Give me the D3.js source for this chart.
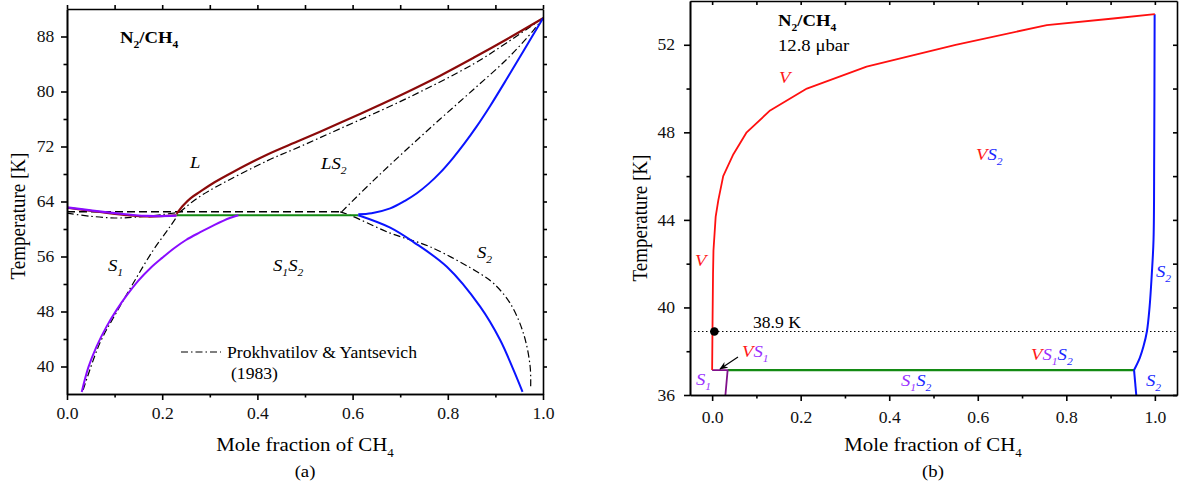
<!DOCTYPE html>
<html lang="en">
<head>
<meta charset="utf-8">
<title>N2/CH4 phase diagram</title>
<script src="https://d3js.org/d3.v7.min.js"></script>
<style>
  body { margin: 0; background: #fff; }
  svg { display: block; font-family: "Liberation Serif", "Times New Roman", serif; }
  .axis path, .axis line { stroke: #000; stroke-width: 1.6; }
  .axis text { font-family: "Liberation Serif", serif; fill: #111; }
</style>
</head>
<body>
<svg width="1179" height="489"></svg>
<script>
// ---- panel (a) data: [mole fraction CH4, T in K]
var liquidusLeft  = [[0,63.1],[0.06,62.55],[0.12,62.05],[0.17,61.8],[0.23,62.0]];
var liquidus      = [[0.23,62.2],[0.245,63.5],[0.26,64.5],[0.279,65.4],[0.31,66.8],[0.349,68.3],[0.42,70.8],[0.49,72.9],[0.574,75.45],[0.643,77.6],[0.714,79.9],[0.784,82.3],[0.854,84.9],[0.924,87.6],[1.0,90.65]];
var solidusN2     = [[0,63.15],[0.05,62.7],[0.1,62.3],[0.167,61.9],[0.23,61.95]];
var solvusN2      = [[0.031,36.3],[0.045,39.9],[0.062,42.9],[0.083,45.8],[0.104,48.2],[0.125,50.3],[0.15,52.5],[0.175,54.3],[0.2,55.8],[0.225,57.2],[0.25,58.4],[0.279,59.5],[0.31,60.6],[0.342,61.6],[0.36,62.0]];
var eutecticA     = [[0.23,62.0],[0.612,62.0]];
var solidusCH4    = [[0.612,62.15],[0.64,62.3],[0.679,63.0],[0.71,64.1],[0.735,65.2],[0.76,66.6],[0.784,68.2],[0.81,70.25],[0.835,72.45],[0.86,74.85],[0.889,77.9],[0.924,81.85],[0.959,85.9],[1.0,90.65]];
var solvusCH4     = [[0.612,62.0],[0.679,60.2],[0.728,58.1],[0.798,54.5],[0.868,48.7],[0.91,43.85],[0.938,39.5],[0.957,36.3]];
// Prokhvatilov & Yantsevich (1983)
var pyDashed      = [[0,62.5],[0.574,62.5]];
var pyLeft        = [[0,62.3],[0.05,61.85],[0.1,61.6],[0.14,61.7],[0.2,62.1],[0.237,62.45]];
var pyLiquidus    = [[0.237,62.45],[0.27,64.3],[0.31,66.0],[0.42,69.9],[0.49,72.0],[0.574,74.6],[0.714,79.0],[0.854,84.0],[0.924,87.1],[1.0,90.7]];
var pySolvusN2    = [[0.034,36.6],[0.069,43.4],[0.105,48.0],[0.139,52.1],[0.181,56.9],[0.216,60.3],[0.237,62.45]];
var pySolidusCH4  = [[0.577,62.5],[0.643,67.0],[0.714,71.6],[0.784,76.0],[0.854,80.3],[0.924,84.7],[0.98,88.9],[1.0,90.7]];
var pySolvusCH4   = [[0.574,62.5],[0.595,62.0],[0.679,59.4],[0.763,57.4],[0.868,53.5],[0.896,52.1],[0.931,49.2],[0.959,44.8],[0.973,40.0],[0.974,36.8]];

// ---- panel (b) data, 12.8 ubar
var vapour        = [[0.0,37.14],[0.001,39.5],[0.002,41.5],[0.003,42.6],[0.008,44.15],[0.014,44.9],[0.025,46.0],[0.048,47.0],[0.078,48.0],[0.131,49.0],[0.214,50.0],[0.349,51.0],[0.55,52.0],[0.756,52.9],[0.906,53.2],[1.0,53.4]];
var s2Upper       = [[0.953,37.14],[0.966,37.7],[0.974,38.2],[0.982,38.9],[0.988,40.0],[0.993,41.5],[0.997,43.1],[0.9985,47],[0.9995,53.4]];
var s2Lower       = [[0.953,37.14],[0.958,36]];
var s1Edge        = [[0,37.14],[0.035,37.14],[0.030,36]];
var eutecticB     = [[0.035,37.14],[0.953,37.14]];
var dotLine       = [[-0.05,38.9],[1.05,38.9]];
var marker        = [0.005,38.9];

var xTicks = [0,0.2,0.4,0.6,0.8,1.0], xMinor = [0.1,0.3,0.5,0.7,0.9];
var yTicksA = [40,48,56,64,72,80,88], yMinorA = [44,52,60,68,76,84];
var yTicksB = [36,40,44,48,52], yMinorB = [38,42,46,50];

var SX = 1.1; // the figure text is slightly wide
var svg = d3.select("svg");

var xa = d3.scaleLinear().domain([0,1]).range([67,543]),
    ya = d3.scaleLinear().domain([36,92]).range([394,9]),
    xb = d3.scaleLinear().domain([-0.05,1.05]).range([690,1177]),
    yb = d3.scaleLinear().domain([36,54]).range([395,1]);

function txt(x, y, parts, size, extra) {
  var t = svg.append("text")
      .attr("transform", "translate(" + x + "," + y + ") scale(" + SX + ",1)" + (extra || ""))
      .attr("font-size", size);
  parts.forEach(function(p) {
    var s = t.append("tspan").text(p.t);
    if (p.fill) s.attr("fill", p.fill);
    if (p.italic) s.attr("font-style", "italic");
    if (p.bold) s.attr("font-weight", "bold");
    if (p.sub) s.attr("font-size", size * 0.62).attr("dy", size * 0.3);
    if (p.back) s.attr("dy", -size * 0.3);
  });
  return t;
}

function axes(x, y, yMaj, yMin, padX, padY, innerRT) {
  var x0 = x.range()[0], x1 = x.range()[1], y0 = y.range()[0], y1 = y.range()[1];
  var fmt = d3.format(".1f");
  var bot = svg.append("g").attr("class", "axis").attr("transform", "translate(0," + y0 + ")")
    .call(d3.axisBottom(x).tickValues(xTicks).tickFormat(fmt).tickSize(6).tickSizeOuter(0).tickPadding(padX));
  svg.append("g").attr("class", "axis").attr("transform", "translate(0," + y0 + ")")
    .call(d3.axisBottom(x).tickValues(xMinor).tickFormat("").tickSize(3.5).tickSizeOuter(0));
  var lft = svg.append("g").attr("class", "axis").attr("transform", "translate(" + x0 + ",0)")
    .call(d3.axisLeft(y).tickValues(yMaj).tickSize(6).tickSizeOuter(0).tickPadding(padY));
  svg.append("g").attr("class", "axis").attr("transform", "translate(" + x0 + ",0)")
    .call(d3.axisLeft(y).tickValues(yMin).tickFormat("").tickSize(3.5).tickSizeOuter(0));
  var s = innerRT ? -1 : 1;
  svg.append("g").attr("class", "axis").attr("transform", "translate(0," + y1 + ")")
    .call(d3.axisTop(x).tickValues(xTicks.concat(xMinor)).tickFormat("").tickSize(s * 4).tickSizeOuter(0));
  svg.append("g").attr("class", "axis").attr("transform", "translate(" + x1 + ",0)")
    .call(d3.axisRight(y).tickValues(yMaj.concat(yMin)).tickFormat("").tickSize(s * 4).tickSizeOuter(0));
  [bot, lft].forEach(function(g) {
    g.selectAll("text").attr("font-size", 16).attr("transform", "scale(" + SX + ",1)");
  });
}

function curve(x, y, data, color, w, dash, smooth) {
  var line = d3.line().x(function(d) { return x(d[0]); }).y(function(d) { return y(d[1]); });
  if (smooth) line.curve(d3.curveCatmullRom.alpha(0.5));
  var p = svg.append("path").datum(data).attr("d", line)
    .attr("fill", "none").attr("stroke", color).attr("stroke-width", w)
    .attr("stroke-linejoin", "round");
  if (dash) p.attr("stroke-dasharray", dash);
  return p;
}

// ---------- panel (a)
var brown = "#8b0a0a", violet = "#8a0cff", blue = "#0a14ff", green = "#138a13";
var dashDot = "7,3,1.5,3";
curve(xa, ya, pyDashed, "#000", 1.5, "8,4");
curve(xa, ya, pyLeft, "#000", 1.2, dashDot, true);
curve(xa, ya, pyLiquidus, "#000", 1.2, dashDot, true);
curve(xa, ya, pySolvusN2, "#000", 1.2, dashDot, true);
curve(xa, ya, pySolidusCH4, "#000", 1.2, dashDot, true);
curve(xa, ya, pySolvusCH4, "#000", 1.2, dashDot, true);
curve(xa, ya, eutecticA, green, 2.2);
curve(xa, ya, liquidusLeft, brown, 2, null, true);
curve(xa, ya, liquidus, brown, 2.2, null, true);
curve(xa, ya, solidusN2, violet, 2.2, null, true);
curve(xa, ya, solvusN2, violet, 2, null, true);
curve(xa, ya, solidusCH4, blue, 2, null, true);
curve(xa, ya, solvusCH4, blue, 2, null, true);
axes(xa, ya, yTicksA, yMinorA, 8, 5.5, false);

txt(120, 43, [{t:"N", bold:true},{t:"2", bold:true, sub:true},{t:"/CH", bold:true, back:true},{t:"4", bold:true, sub:true}], 17);
txt(190, 168, [{t:"L", italic:true}], 17);
txt(321, 169, [{t:"LS", italic:true},{t:"2", italic:true, sub:true}], 17);
txt(108, 271, [{t:"S", italic:true},{t:"1", italic:true, sub:true}], 17);
txt(273, 271, [{t:"S", italic:true},{t:"1", italic:true, sub:true},{t:"S", italic:true, back:true},{t:"2", italic:true, sub:true}], 17);
txt(477, 258, [{t:"S", italic:true},{t:"2", italic:true, sub:true}], 17);
svg.append("line").attr("x1", 181).attr("x2", 221).attr("y1", 352).attr("y2", 352)
  .attr("stroke", "#000").attr("stroke-width", 1.2).attr("stroke-dasharray", dashDot);
txt(227, 358, [{t:"Prokhvatilov & Yantsevich"}], 16);
txt(231, 379, [{t:"(1983)"}], 16);

// ---------- panel (b)
curve(xb, yb, dotLine, "#000", 1.2, "1.5,2.5");
curve(xb, yb, eutecticB, green, 2.2);
curve(xb, yb, s1Edge, "#80108a", 1.8);
curve(xb, yb, s2Lower, blue, 2);
curve(xb, yb, s2Upper, blue, 2, null, true);
curve(xb, yb, vapour, "#ff1010", 1.8);
svg.append("circle").attr("cx", xb(marker[0])).attr("cy", yb(marker[1])).attr("r", 4.3).attr("fill", "#000");
axes(xb, yb, yTicksB, yMinorB, 10.5, 7.5, true);

svg.append("defs").append("marker").attr("id", "ah").attr("viewBox", "0 0 10 10")
  .attr("refX", 9).attr("refY", 5).attr("markerWidth", 7).attr("markerHeight", 7).attr("orient", "auto")
  .append("path").attr("d", "M0,1 L10,5 L0,9 L3,5 Z").attr("fill", "#000");
svg.append("line").attr("x1", 738).attr("y1", 357).attr("x2", 720).attr("y2", 369)
  .attr("stroke", "#000").attr("stroke-width", 1.2).attr("marker-end", "url(#ah)");

var red = "#ff1a1a", pur = "#9a30ff", blu = "#1a28ff";
txt(778, 26, [{t:"N", bold:true},{t:"2", bold:true, sub:true},{t:"/CH", bold:true, back:true},{t:"4", bold:true, sub:true}], 17);
txt(778, 51, [{t:"12.8 \u03bcbar"}], 17);
txt(779, 83, [{t:"V", italic:true, fill:red}], 17);
txt(976, 160, [{t:"V", italic:true, fill:red},{t:"S", italic:true, fill:blu},{t:"2", italic:true, sub:true, fill:blu}], 17);
txt(695, 266, [{t:"V", italic:true, fill:red}], 17);
txt(742, 357, [{t:"V", italic:true, fill:red},{t:"S", italic:true, fill:pur},{t:"1", italic:true, sub:true, fill:pur}], 17);
txt(696, 385, [{t:"S", italic:true, fill:pur},{t:"1", italic:true, sub:true, fill:pur}], 17);
txt(901, 386, [{t:"S", italic:true, fill:pur},{t:"1", italic:true, sub:true, fill:pur},{t:"S", italic:true, back:true, fill:blu},{t:"2", italic:true, sub:true, fill:blu}], 17);
txt(1031, 360, [{t:"V", italic:true, fill:red},{t:"S", italic:true, fill:pur},{t:"1", italic:true, sub:true, fill:pur},{t:"S", italic:true, back:true, fill:blu},{t:"2", italic:true, sub:true, fill:blu}], 17);
txt(1156, 277, [{t:"S", italic:true, fill:blu},{t:"2", italic:true, sub:true, fill:blu}], 17);
txt(1146, 386, [{t:"S", italic:true, fill:blu},{t:"2", italic:true, sub:true, fill:blu}], 17);
txt(753, 328, [{t:"38.9 K"}], 16);

// ---------- axis titles
[305, 933].forEach(function(cx, i) {
  txt(cx, 451, [{t:"Mole fraction of CH"},{t:"4", sub:true}], 19).attr("text-anchor", "middle");
  txt(cx, 477, [{t:i ? "(b)" : "(a)"}], 17).attr("text-anchor", "middle");
});
svg.append("text").attr("transform", "translate(25,216) rotate(-90) scale(1," + SX + ")")
  .attr("text-anchor", "middle").attr("font-size", 19).text("Temperature [K]");
svg.append("text").attr("transform", "translate(647,218) rotate(-90) scale(1," + SX + ")")
  .attr("text-anchor", "middle").attr("font-size", 19).text("Temperature [K]");
</script>
</body>
</html>
